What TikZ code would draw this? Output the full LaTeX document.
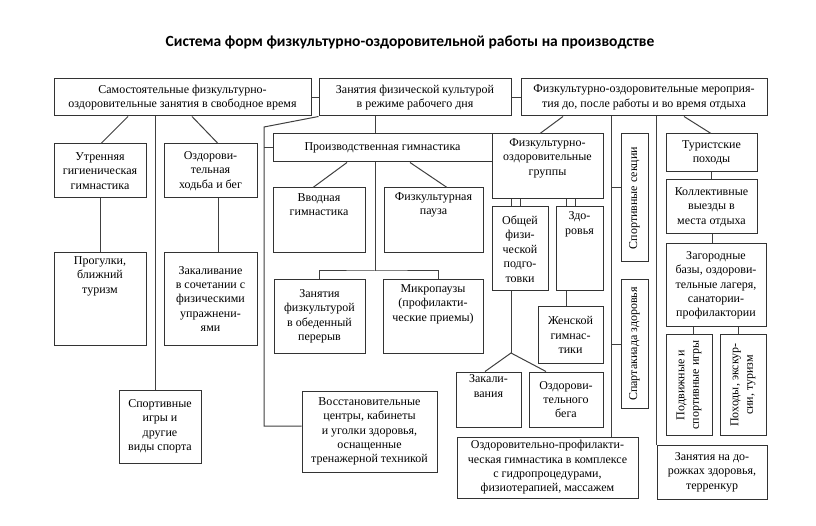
\documentclass[tikz,border=0pt]{standalone}
\usepackage{fontspec}
\setmainfont{Liberation Serif}
\newfontfamily\titlefont{Carlito}
\usetikzlibrary{positioning}

\begin{document}
\begin{tikzpicture}[
  x=1pt, y=-1pt,
  font=\fontsize{12}{14.4}\selectfont,
  box/.style={
    rectangle,
    draw=black!80,
    line width=1pt,
    align=center,
    inner sep=1pt
  },
  txt/.style={align=center, inner sep=0pt},
  link/.style={draw=black!75, line width=1pt}
]
\useasboundingbox[fill=white] (0,0) rectangle (816,526);

\node[font=\titlefont\bfseries\fontsize{15.5}{18}\selectfont] (title) at (410,42) {Система форм физкультурно-оздоровительной работы на производстве};

% top row
\node[box, minimum width=257pt, minimum height=37pt] (samost) at (182.5,97.5) {Самостоятельные физкультурно-\\оздоровительные занятия в свободное время};
\node[box, minimum width=192pt, minimum height=37pt] (rezhim) at (415,97.5) {Занятия физической культурой\\в режиме рабочего дня};
\node[box, minimum width=246pt, minimum height=37pt] (meropr) at (644,97.5) {Физкультурно-оздоровительные мероприя-\\тия до, после работы и во время отдыха};

% free time
\node[box, minimum width=92pt, minimum height=54pt] (utr) at (100,171) {Утренняя\\гигиеническая\\гимнастика};
\node[box, minimum width=93pt, minimum height=54pt] (hodba) at (210.5,171) {Оздорови-\\тельная\\ходьба и бег};
\node[box, minimum width=92pt, minimum height=92pt] (progulki) at (100,299) {};
\node[txt, below=4pt of progulki.north] (progulkitxt) {Прогулки,\\ближний\\туризм};
\node[box, minimum width=93pt, minimum height=92pt] (zakal) at (210.5,299) {Закаливание\\в сочетании с\\физическими\\упражнени-\\ями};
\node[box, minimum width=82pt, minimum height=73pt] (sport) at (160,426.5) {Спортивные\\игры и\\другие\\виды спорта};

% working day
\node[box, minimum width=219pt, minimum height=28pt] (proizv) at (382.5,148) {Производственная гимнастика};
\node[box, minimum width=92pt, minimum height=65pt] (vvod) at (319,220.5) {};
\node[txt, below=6pt of vvod.north] (vvodtxt) {Вводная\\гимнастика};
\node[box, minimum width=99pt, minimum height=65pt] (pauza) at (433.5,220.5) {};
\node[txt, below=5pt of pauza.north] (pauzatxt) {Физкультурная\\пауза};
\node[box, minimum width=91pt, minimum height=73pt] (obed) at (319.5,316.5) {Занятия\\физкультурой\\в обеденный\\перерыв};
\node[box, minimum width=100pt, minimum height=73pt] (mikro) at (433,316.5) {};
\node[txt, below=5pt of mikro.north] (mikrotxt) {Микропаузы\\(профилакти-\\ческие приемы)};
\node[box, minimum width=135pt, minimum height=81pt] (vosst) at (369.5,431.5) {Восстановительные\\центры, кабинеты\\и уголки здоровья,\\оснащенные\\тренажерной техникой};

% before and after work
\node[box, minimum width=111pt, minimum height=65pt] (gruppy) at (547.5,166.5) {};
\node[txt, below=5pt of gruppy.north] (gruppytxt) {Физкультурно-\\оздоровительные\\группы};
\node[box, minimum width=56pt, minimum height=84pt] (obsh) at (520,249) {Общей\\физи-\\ческой\\подго-\\товки};
\node[box, minimum width=47pt, minimum height=84pt] (zdor) at (579.5,249) {};
\node[txt, below=5pt of zdor.north] (zdortxt) {Здо-\\ровья};
\node[box, minimum width=65pt, minimum height=56pt] (zhensk) at (570.5,335) {Женской\\гимнас-\\тики};
\node[box, minimum width=65pt, minimum height=55pt] (zakalivan) at (488.5,399.5) {};
\node[txt, below=3pt of zakalivan.north] (zakalivantxt) {Закали-\\вания};
\node[box, minimum width=74pt, minimum height=55pt] (ozdbeg) at (566,399.5) {Оздорови-\\тельного\\бега};
\node[box, minimum width=181pt, minimum height=61pt] (profil) at (547.5,467.5) {Оздоровительно-профилакти-\\ческая гимнастика в комплексе\\с гидропроцедурами,\\физиотерапией, массажем};
\node[box, rotate=90, minimum width=128pt, minimum height=27pt] (sekcii) at (634.5,198) {Спортивные секции};
\node[box, rotate=90, minimum width=128pt, minimum height=27pt] (spartak) at (634.5,344) {Спартакиада здоровья};
\node[box, minimum width=91pt, minimum height=38pt] (turist) at (711.5,153) {Туристские\\походы};
\node[box, minimum width=91pt, minimum height=54pt] (vyezdy) at (711.5,207) {Коллективные\\выезды в\\места отдыха};
\node[box, minimum width=100pt, minimum height=83pt] (bazy) at (716,285.5) {Загородные\\базы, оздорови-\\тельные лагеря,\\санатории-\\профилактории};
\node[box, rotate=90, minimum width=100pt, minimum height=46pt] (podv) at (689,385) {Подвижные и\\спортивные игры};
\node[box, rotate=90, minimum width=100pt, minimum height=46pt] (pohody) at (743,385) {Походы, экскур-\\сии, туризм};
\node[box, minimum width=110pt, minimum height=54pt] (dorozhki) at (712,472) {Занятия на до-\\рожках здоровья,\\терренкур};

% connectors
\draw[link] (samost) -- (rezhim);
\draw[link] (rezhim) -- (meropr);
\draw[link] (128,0 |- samost.south) -- (101,0 |- utr.north);
\draw[link] (155,0 |- samost.south) -- (155,0 |- sport.north);
\draw[link] (192,0 |- samost.south) -- (218,0 |- hodba.north);
\draw[link] (utr) -- (progulki);
\draw[link] (218,0 |- hodba.south) -- (218,0 |- zakal.north);

\draw[link] (rezhim.south west) -- (264,127) -- (264,426) -- (vosst.west |- 0,426);
\draw[link] (264,0 |- proizv.west) -- (proizv.west);
\draw[link] (375,0 |- rezhim.south) -- (375,0 |- proizv.north);
\draw[link] (347,0 |- proizv.south) -- (313,0 |- vvod.north);
\draw[link] (410,0 |- proizv.south) -- (447,0 |- pauza.north);
\draw[link] (375,0 |- proizv.south) -- (375,271) coordinate (bar);
\draw[link] (319,0 |- obed.north) |- (bar) -| (438,0 |- mikro.north);

\draw[link] (563,0 |- meropr.south) -- (540,0 |- gruppy.north);
\foreach \x in {511,520} \draw[link] (\x,0 |- gruppy.south) -- (\x,0 |- obsh.north);
\foreach \x in {566,575} \draw[link] (\x,0 |- gruppy.south) -- (\x,0 |- zdor.north);
\draw[link] (511,0 |- obsh.south) -- (511,353) coordinate (split);
\draw[link] (485,0 |- zakalivan.north) -- (split) -- (546,0 |- ozdbeg.north);
\draw[link] (566,0 |- zdor.south) -- (566,0 |- zhensk.north);
\draw[link] (611,0 |- meropr.south) -- (611,0 |- profil.north);
\draw[link] ([yshift=10pt]sekcii.north) -- ++(-10,0);
\draw[link] (spartak.north) -- ++(-10,0);
\draw[link] (meropr.south -| dorozhki.north west) -- (dorozhki.north west);
\draw[link] (684,0 |- meropr.south) -- (711,0 |- turist.north);
\draw[link] (turist) -- (vyezdy);
\draw[link] (712,0 |- vyezdy.south) -- (712,0 |- bazy.north);
\draw[link] (693,0 |- bazy.south) -- (693,0 |- podv.east);
\draw[link] (738,0 |- bazy.south) -- (738,0 |- pohody.east);

\end{tikzpicture}
\end{document}
